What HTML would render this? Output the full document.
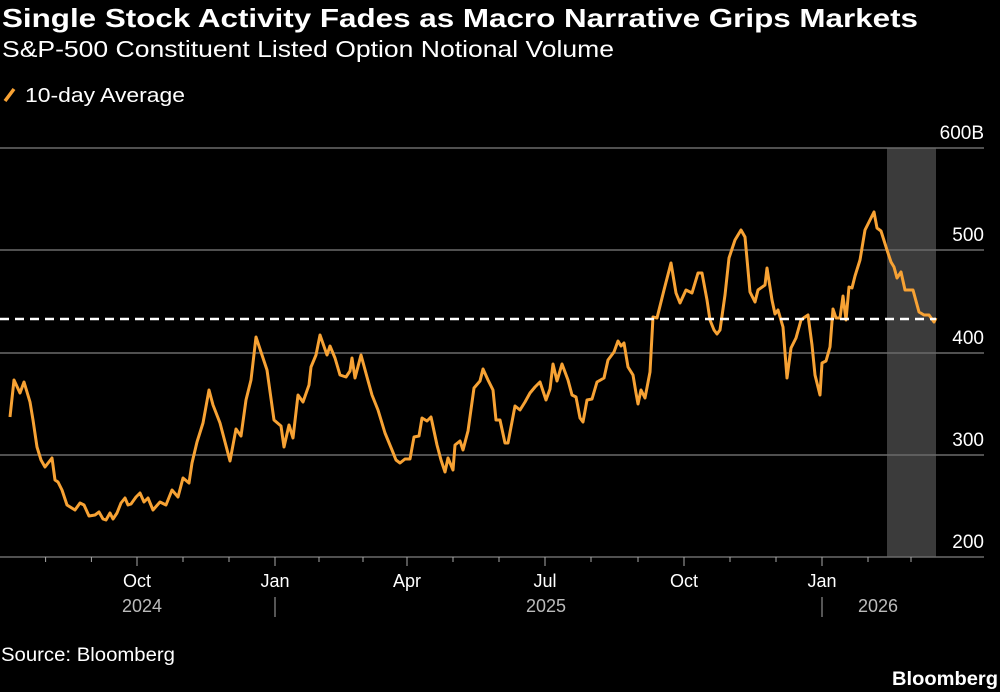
<!DOCTYPE html>
<html><head><meta charset="utf-8"><style>
html,body{margin:0;padding:0;background:#000;}
svg{display:block;font-family:"Liberation Sans Narrow","Liberation Sans",sans-serif;}
</style></head><body>
<svg width="1000" height="692" viewBox="0 0 1000 692" xmlns="http://www.w3.org/2000/svg">
<rect width="1000" height="692" fill="#000"/>
<text x="2" y="27" fill="#fff" font-size="26" font-weight="bold" textLength="916" lengthAdjust="spacingAndGlyphs">Single Stock Activity Fades as Macro Narrative Grips Markets</text>
<text x="2" y="57" fill="#fff" font-size="23" textLength="612" lengthAdjust="spacingAndGlyphs">S&amp;P-500 Constituent Listed Option Notional Volume</text>
<line x1="5" y1="101" x2="14" y2="89" stroke="#f7a234" stroke-width="3.5"/>
<text x="25" y="102" fill="#fff" font-size="20" textLength="160" lengthAdjust="spacingAndGlyphs">10-day Average</text>
<rect x="887" y="148" width="49" height="409" fill="#3b3b3b"/>
<g stroke="#6a6a6a" stroke-width="1.5">
<line x1="0" y1="148" x2="984" y2="148"/><line x1="0" y1="250" x2="984" y2="250"/>
<line x1="0" y1="353" x2="984" y2="353"/><line x1="0" y1="455" x2="984" y2="455"/>
<line x1="0" y1="557" x2="984" y2="557"/>
</g>
<g fill="#fff" font-size="19" text-anchor="end">
<text x="984" y="139">600B</text><text x="984" y="241">500</text><text x="984" y="344">400</text><text x="984" y="446">300</text><text x="984" y="548">200</text>
</g>
<g stroke="#aaa" stroke-width="1">
<line x1="45.6" y1="557" x2="45.6" y2="562"/><line x1="91.4" y1="557" x2="91.4" y2="562"/>
<line x1="137" y1="557" x2="137" y2="566"/><line x1="183" y1="557" x2="183" y2="562"/><line x1="229" y1="557" x2="229" y2="562"/>
<line x1="275" y1="557" x2="275" y2="566"/><line x1="319" y1="557" x2="319" y2="562"/><line x1="363" y1="557" x2="363" y2="562"/>
<line x1="407" y1="557" x2="407" y2="566"/><line x1="453" y1="557" x2="453" y2="562"/><line x1="499" y1="557" x2="499" y2="562"/>
<line x1="545" y1="557" x2="545" y2="566"/><line x1="591" y1="557" x2="591" y2="562"/><line x1="638" y1="557" x2="638" y2="562"/>
<line x1="684" y1="557" x2="684" y2="566"/><line x1="730" y1="557" x2="730" y2="562"/><line x1="776" y1="557" x2="776" y2="562"/>
<line x1="822" y1="557" x2="822" y2="566"/><line x1="868" y1="557" x2="868" y2="562"/><line x1="911" y1="557" x2="911" y2="562"/>
<line x1="275" y1="597" x2="275" y2="617"/><line x1="822" y1="597" x2="822" y2="617"/>
</g>
<g fill="#fff" font-size="18" text-anchor="middle">
<text x="137" y="587">Oct</text><text x="275" y="587">Jan</text><text x="407" y="587">Apr</text><text x="545" y="587">Jul</text><text x="684" y="587">Oct</text><text x="822" y="587">Jan</text>
</g>
<g fill="#bbb" font-size="18" text-anchor="middle">
<text x="142" y="612">2024</text><text x="546" y="612">2025</text><text x="878" y="612">2026</text>
</g>
<text x="1" y="661" fill="#fff" font-size="19" textLength="174" lengthAdjust="spacingAndGlyphs">Source: Bloomberg</text>
<text x="998" y="685" fill="#fff" font-size="19" font-weight="bold" text-anchor="end" textLength="106" lengthAdjust="spacingAndGlyphs">Bloomberg</text>
<polyline fill="none" stroke="#f7a234" stroke-width="3" stroke-linejoin="round" points="10,417 14,380 20,393 24,382 30,402 33,420 37,447 41,460 45,467 52,458 55,480 58,482 62,490 67,505 75,510 80,503 84,505 89,516 95,515 99,512 103,519 106,520 110,513 113,519 117,513 121,503 125,498 128,505 131,504 136,497 140,493 144,502 148,498 153,510 160,502 166,505 172,490 178,497 183,478 189,483 192,463 197,442 203,423 209,390 213,405 220,423 230,461 236,429 241,436 246,400 251,380 256,337 262,355 267,370 274,420 281,426 284,447 289,425 293,438 298,395 303,402 309,385 311,367 316,355 320,335 327,355 330,346 335,358 340,375 346,377 350,371 352,358 355,378 361,355 367,377 372,395 378,410 385,433 392,450 396,460 400,463 405,459 410,459 414,437 419,436 422,418 427,421 431,417 437,445 441,460 445,472 448,458 453,470 455,445 460,441 463,450 468,431 474,388 480,381 483,369 488,380 493,390 496,420 500,420 505,443 508,443 515,406 520,410 525,402 530,393 535,387 540,382 546,400 550,389 553,364 557,381 562,364 568,380 572,395 576,397 580,418 583,422 587,400 592,399 597,382 604,378 608,360 614,352 618,341 621,346 624,343 628,367 633,375 636,393 638,404 641,390 645,398 650,372 653,317 657,318 664,290 671,263 676,293 680,303 686,290 692,293 698,273 702,273 707,300 710,320 714,330 717,334 720,330 725,295 729,258 735,240 741,230 745,237 750,292 755,302 758,290 765,285 767,268 772,300 775,314 778,310 783,327 787,378 791,348 796,338 801,320 805,317 808,315 812,345 815,375 820,395 822,363 826,361 830,347 833,309 836,318 840,318 843,296 846,320 849,287 852,288 855,276 860,260 865,230 870,220 874,212 877,228 881,231 887,250 891,262 894,267 897,278 901,272 905,290 910,290 913,290 919,312 924,315 929,315 934,322 936,318"/>
<line x1="0" y1="319" x2="936" y2="319" stroke="#fff" stroke-width="2.5" stroke-dasharray="9,6"/>
</svg>
</body></html>
